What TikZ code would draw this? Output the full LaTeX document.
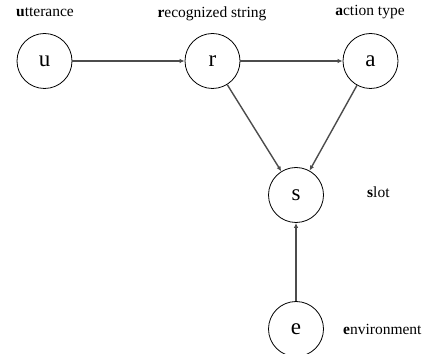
\documentclass[tikz,border=0pt]{standalone}
\usepackage{fontspec}
\setmainfont{Liberation Serif}
\usetikzlibrary{arrows.meta}
\begin{document}
\begin{tikzpicture}[x=1pt,y=1pt,
  var/.style={circle,draw,line width=0.8pt,minimum size=55pt,inner sep=0pt,font=\fontsize{23}{26}\selectfont},
  lab/.style={font=\fontsize{15.5}{17}\selectfont,inner sep=0pt},
  edge/.style={draw=black!70,line width=1.4pt,-{Latex[length=5pt,width=4.5pt]}}]
\useasboundingbox (0,0) rectangle (430,353);
\node[var] (u) at (44.5,292) {u};
\node[var] (r) at (212.5,292) {r};
\node[var] (a) at (370.5,292) {a};
\node[var] (s) at (296,158) {s};
\node[var] (e) at (296,24) {e};
\node[lab] (lu) at (45,341) {\textbf{u}tterance};
\node[lab] (lr) at (212,339) {\textbf{r}ecognized string};
\node[lab] (la) at (370,341) {\textbf{a}ction type};
\node[lab,anchor=west] (ls) at (367,161) {\textbf{s}lot};
\node[lab,anchor=west] (le) at (343,24) {\textbf{e}nvironment};
\draw[edge] (u) -- (r);
\draw[edge] (r) -- (a);
\draw[edge] (r) -- (s);
\draw[edge] (a) -- (s);
\draw[edge] (e) -- (s);
\end{tikzpicture}
\end{document}
